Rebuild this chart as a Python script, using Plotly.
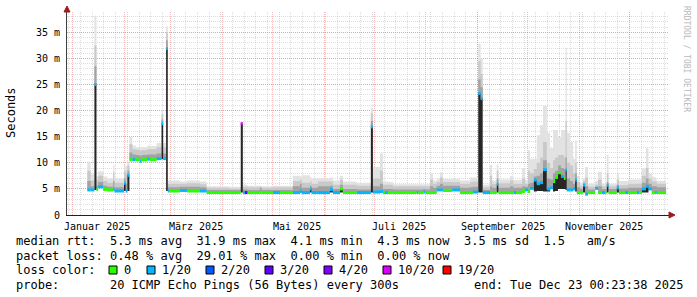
import plotly.graph_objects as go

# ---------------- data (values in milliseconds) ----------------
t = [
    "2025-01-10 00:00", "2025-01-12 00:00", "2025-01-14 06:00", "2025-01-15 12:00", "2025-01-16 12:00",
    "2025-01-19 12:00", "2025-01-22 00:00", "2025-01-25 12:00", "2025-01-26 06:00", "2025-02-01 00:00",
    "2025-02-02 00:00", "2025-02-03 00:00", "2025-02-04 06:00", "2025-02-06 00:00", "2025-02-08 00:00",
    "2025-02-10 12:00", "2025-02-11 12:00", "2025-02-15 00:00", "2025-02-16 12:00", "2025-02-20 12:00",
    "2025-02-23 12:00", "2025-02-24 12:00", "2025-02-26 06:00", "2025-02-27 06:00", "2025-02-28 06:00",
    "2025-03-06 12:00", "2025-03-10 18:00", "2025-03-18 12:00", "2025-03-22 12:00", "2025-04-05 00:00",
    "2025-04-12 00:00", "2025-04-13 06:00", "2025-04-14 12:00", "2025-04-16 00:00", "2025-04-23 12:00",
    "2025-04-24 12:00", "2025-05-01 06:00", "2025-05-05 12:00", "2025-05-13 06:00", "2025-05-17 12:00",
    "2025-05-18 12:00", "2025-05-23 12:00", "2025-05-24 12:00", "2025-05-28 06:00", "2025-06-04 12:00",
    "2025-06-06 06:00", "2025-06-10 12:00", "2025-06-12 06:00", "2025-06-20 12:00", "2025-06-29 00:00",
    "2025-06-30 06:00", "2025-07-04 12:00", "2025-07-06 06:00", "2025-07-07 12:00", "2025-07-09 06:00",
    "2025-07-12 06:00", "2025-07-26 12:00", "2025-07-27 12:00", "2025-07-30 12:00", "2025-07-31 18:00",
    "2025-08-03 12:00", "2025-08-05 06:00", "2025-08-07 12:00", "2025-08-09 12:00", "2025-08-11 06:00",
    "2025-08-16 18:00", "2025-08-21 12:00", "2025-08-27 12:00", "2025-08-29 06:00", "2025-09-01 10:00",
    "2025-09-02 20:00", "2025-09-04 02:00", "2025-09-08 12:00", "2025-09-09 18:00", "2025-09-12 12:00",
    "2025-09-13 12:00", "2025-09-20 12:00", "2025-09-22 12:00", "2025-09-24 00:00", "2025-09-27 18:00",
    "2025-09-29 12:00", "2025-10-01 06:00", "2025-10-02 12:00", "2025-10-04 18:00", "2025-10-06 12:00",
    "2025-10-08 12:00", "2025-10-10 06:00", "2025-10-12 12:00", "2025-10-14 12:00", "2025-10-16 06:00",
    "2025-10-17 12:00", "2025-10-19 06:00", "2025-10-21 00:00", "2025-10-22 18:00", "2025-10-23 18:00",
    "2025-10-24 12:00", "2025-10-26 12:00", "2025-10-28 06:00", "2025-10-29 12:00", "2025-10-30 12:00",
    "2025-11-01 12:00", "2025-11-03 06:00", "2025-11-04 12:00", "2025-11-06 06:00", "2025-11-10 12:00",
    "2025-11-12 06:00", "2025-11-14 12:00", "2025-11-16 12:00", "2025-11-17 12:00", "2025-11-18 12:00",
    "2025-11-23 12:00", "2025-11-24 18:00", "2025-11-28 12:00", "2025-11-30 06:00", "2025-12-05 12:00",
    "2025-12-07 00:00", "2025-12-08 12:00", "2025-12-11 00:00", "2025-12-12 12:00", "2025-12-14 12:00",
    "2025-12-16 12:00", "2025-12-17 12:00",
]
t_end = "2025-12-23 00:23"

# median round-trip time
med = [
    4.8, 4.8, 25.0, 4.9, 5.4, 4.9, 4.8, 4.9, 4.6, 6.1,
    4.6, 7.6, 10.6, 10.6, 10.6, 10.3, 10.6, 10.7, 10.6, 10.8,
    17.5, 10.8, 31.9, 4.6, 4.6, 4.7, 4.6, 4.6, 4.3, 4.3,
    17.5, 4.3, 4.3, 4.3, 4.3, 4.3, 4.3, 4.3, 4.3, 4.6,
    4.3, 5.0, 4.3, 4.3, 4.9, 4.3, 5.0, 4.3, 4.3, 16.9,
    4.4, 4.5, 4.3, 4.3, 4.3, 4.3, 4.3, 4.3, 4.4, 4.3,
    4.3, 4.3, 4.8, 4.8, 4.7, 4.8, 4.3, 4.3, 4.4, 23.3,
    22.3, 4.3, 4.3, 4.3, 5.9, 4.3, 4.3, 4.3, 4.3, 4.5,
    4.8, 4.5, 5.1, 6.7, 6.0, 6.2, 8.7, 5.0, 5.2, 6.4,
    7.2, 8.1, 7.4, 7.0, 8.6, 4.8, 4.8, 5.0, 6.7, 4.3,
    4.3, 5.7, 4.0, 4.3, 5.1, 4.3, 4.3, 4.3, 5.7, 4.3,
    5.2, 4.3, 4.3, 4.3, 4.3, 4.3, 5.0, 5.5, 5.0, 4.3,
    4.3, 4.3,
]
# lower edge of the dense (black) smoke core
core_low = [
    4.8, 4.8, 4.8, 4.9, 5.4, 4.9, 4.8, 4.9, 4.6, 4.6,
    4.6, 4.6, 10.6, 10.6, 10.6, 10.3, 10.6, 10.7, 10.6, 10.8,
    10.7, 10.8, 4.6, 4.6, 4.6, 4.7, 4.6, 4.6, 4.3, 4.3,
    4.3, 4.3, 4.3, 4.3, 4.3, 4.3, 4.3, 4.3, 4.3, 4.3,
    4.3, 4.3, 4.3, 4.3, 4.3, 4.3, 4.3, 4.3, 4.3, 4.3,
    4.4, 4.5, 4.3, 4.3, 4.3, 4.3, 4.3, 4.3, 4.4, 4.3,
    4.3, 4.3, 4.8, 4.8, 4.7, 4.8, 4.3, 4.3, 4.4, 4.3,
    4.3, 4.3, 4.3, 4.3, 4.3, 4.3, 4.3, 4.3, 4.3, 4.5,
    4.8, 4.5, 5.1, 4.5, 4.6, 4.6, 4.5, 4.5, 5.0, 4.5,
    4.6, 5.0, 5.0, 5.0, 4.8, 4.8, 4.8, 5.0, 4.5, 4.3,
    4.3, 4.3, 4.0, 4.3, 5.1, 4.3, 4.3, 4.3, 4.3, 4.3,
    4.3, 4.3, 4.3, 4.3, 4.3, 4.3, 4.3, 4.3, 4.8, 4.3,
    4.3, 4.3,
]
# upper smoke levels
p75 = [
    6.5, 5.5, 28.5, 5.6, 6.3, 5.6, 5.4, 6.5, 5.3, 7.0,
    6.0, 8.5, 12.0, 11.6, 11.5, 11.3, 11.5, 11.6, 11.6, 11.8,
    18.3, 11.8, 33.5, 5.3, 5.3, 5.4, 5.4, 5.3, 4.8, 4.8,
    17.6, 4.9, 4.9, 4.8, 5.2, 4.8, 4.8, 4.8, 5.5, 6.0,
    5.2, 5.6, 5.2, 5.5, 5.6, 5.0, 5.8, 5.0, 4.9, 18.0,
    5.5, 6.0, 5.0, 5.0, 5.0, 4.9, 4.9, 4.9, 5.0, 4.9,
    5.5, 5.2, 5.6, 6.0, 5.6, 5.6, 5.2, 5.3, 5.4, 26.0,
    24.5, 4.8, 5.5, 5.2, 7.0, 5.2, 5.5, 5.2, 5.2, 5.5,
    5.4, 6.0, 6.2, 7.4, 7.5, 8.0, 10.5, 7.0, 6.8, 8.0,
    8.5, 9.5, 9.0, 8.8, 11.0, 7.0, 6.5, 6.0, 8.0, 5.3,
    5.0, 6.1, 5.5, 4.9, 5.4, 5.5, 5.0, 5.0, 6.3, 5.0,
    5.8, 5.1, 5.1, 5.2, 5.2, 5.2, 6.2, 7.0, 6.0, 5.5,
    5.5, 5.3,
]
p90 = [
    8.5, 6.6, 32.5, 6.6, 7.5, 6.5, 6.2, 8.2, 6.2, 8.5,
    8.0, 9.5, 13.6, 12.6, 12.5, 12.3, 12.4, 12.6, 12.6, 13.0,
    19.3, 13.0, 35.0, 6.0, 6.0, 6.0, 6.1, 5.9, 5.2, 5.1,
    17.7, 5.4, 5.4, 5.3, 5.4, 5.2, 5.3, 5.3, 6.5, 6.8,
    6.2, 6.4, 6.0, 6.4, 6.4, 5.8, 6.8, 5.8, 5.6, 19.5,
    7.0, 8.5, 5.8, 5.8, 5.8, 5.5, 5.5, 5.5, 5.5, 5.5,
    6.8, 6.0, 6.3, 7.2, 6.3, 6.3, 6.0, 6.3, 6.4, 29.5,
    27.0, 5.3, 7.5, 6.0, 8.5, 6.1, 6.6, 6.0, 6.0, 7.0,
    6.0, 8.5, 8.0, 8.8, 10.0, 11.0, 14.0, 10.0, 9.0, 10.5,
    11.0, 11.5, 11.5, 11.0, 18.0, 10.0, 9.5, 8.0, 10.0, 6.3,
    5.5, 6.5, 7.2, 5.4, 5.8, 6.8, 5.5, 5.5, 8.0, 5.5,
    6.8, 5.7, 5.7, 6.0, 6.0, 6.0, 7.5, 9.0, 7.0, 6.4,
    6.4, 6.0,
]
pmax = [
    10.2, 7.8, 38.2, 7.4, 8.4, 7.4, 7.0, 9.6, 7.0, 9.6,
    9.4, 10.3, 15.0, 13.3, 13.0, 13.0, 13.0, 13.3, 13.2, 13.8,
    20.0, 13.8, 36.1, 6.6, 6.6, 6.4, 6.6, 6.4, 5.5, 5.4,
    17.8, 5.8, 5.8, 5.6, 5.6, 5.5, 5.6, 5.6, 7.5, 7.4,
    7.6, 7.2, 7.0, 7.0, 7.2, 6.6, 7.5, 6.4, 6.2, 20.6,
    9.2, 11.8, 6.4, 6.4, 6.3, 5.9, 5.9, 5.9, 5.9, 5.9,
    8.0, 6.6, 6.9, 8.2, 6.9, 6.9, 6.6, 7.2, 7.2, 32.8,
    30.0, 5.8, 9.6, 6.6, 9.6, 6.8, 7.5, 6.7, 6.7, 9.0,
    6.7, 12.4, 10.8, 10.8, 15.3, 17.2, 21.0, 15.7, 12.8, 16.3,
    16.3, 15.0, 16.3, 16.3, 32.0, 15.7, 14.0, 10.8, 14.3, 7.5,
    6.1, 7.0, 9.2, 6.0, 6.5, 8.3, 6.0, 6.0, 11.5, 6.0,
    8.0, 6.5, 6.5, 6.8, 6.8, 6.8, 8.9, 12.8, 8.0, 7.3,
    7.0, 6.5,
]
# lost pings (out of 20)
loss = [
    1, 1, 1, 0, 1, 0, 0, 1, 1, 1,
    1, 1, 0, 1, 0, 1, 0, 1, 0, 1,
    1, 1, 1, 1, 0, 1, 0, 1, 0, 0,
    10, 1, 3, 0, 0, 0, 1, 0, 1, 1,
    1, 1, 1, 1, 1, 1, 0, 0, 1, 1,
    1, 1, 0, 1, 0, 0, 1, 0, 1, 0,
    0, 0, 1, 1, 0, 1, 0, 0, 1, 1,
    1, 1, 0, 0, 1, 0, 0, 1, 0, 0,
    1, 0, 1, 1, 1, 1, 1, 1, 1, 0,
    0, 0, 1, 0, 1, 1, 1, 1, 1, 0,
    0, 1, 1, 0, 1, 0, 1, 0, 1, 0,
    1, 0, 1, 0, 1, 0, 1, 1, 1, 0,
    1, 0,
]

loss_labels = ["0", "1/20", "2/20", "3/20", "4/20", "10/20", "19/20"]
loss_levels = [0, 1, 2, 3, 4, 10, 19]
loss_colors = ["#26ff00", "#00b8ff", "#0059ff", "#5e00ff", "#7e00ff", "#dd00ff", "#ff0000"]

y_tick_vals = [0, 5, 10, 15, 20, 25, 30, 35]
y_tick_text = ["0", "5 m", "10 m", "15 m", "20 m", "25 m", "30 m", "35 m"]
month_starts = ["2025-%02d-01" % m for m in range(1, 13)]
label_dates = ["2025-01-16", "2025-03-16", "2025-05-16", "2025-07-16", "2025-09-16", "2025-11-16"]
label_text = ["Januar 2025", "März 2025", "Mai 2025", "Juli 2025", "September 2025", "November 2025"]

# ---------------- layout constants ----------------
W, H = 697, 297
PL, PR, PT, PB = 67, 669, 12, 215
MONO = "DejaVu Sans Mono"


def fx(px):
    return (px - PL) / (PR - PL)


def fy(py):
    return (PB - py) / (PB - PT)


def loss_color(n):
    col = loss_colors[0]
    for lvl, c in zip(loss_levels, loss_colors):
        if n >= lvl:
            col = c
    return col


tx = t + [t_end]


def ext(a):
    return a + [a[-1]]


fig = go.Figure()


def band(lower, upper, color):
    fig.add_trace(go.Scatter(x=tx, y=ext(lower), mode="lines", line=dict(width=0, shape="hv"),
                             hoverinfo="skip", showlegend=False))
    fig.add_trace(go.Scatter(x=tx, y=ext(upper), mode="lines", line=dict(width=0, shape="hv"),
                             fill="tonexty", fillcolor=color, hoverinfo="skip", showlegend=False))


band(med, pmax, "#e2e2e2")
band(med, p90, "#c9c9c9")
band(med, p75, "#a2a2a2")
band(core_low, med, "#262626")

# median, coloured by packet loss
segs = {}
for i in range(len(t)):
    c = loss_color(loss[i])
    xs, ys = segs.setdefault(c, ([], []))
    xs += [tx[i], tx[i + 1], None]
    ys += [med[i], med[i], None]
for c, (xs, ys) in segs.items():
    fig.add_trace(go.Scatter(x=xs, y=ys, mode="lines", line=dict(color=c, width=3),
                             hoverinfo="skip", showlegend=False))

grid_red = "rgba(230,90,90,0.42)"
grid_gray = "rgba(150,150,150,0.32)"

fig.update_xaxes(
    type="date", range=["2024-12-28 19:40", "2025-12-24 19:00"],
    tickmode="array", tickvals=month_starts, showticklabels=False, ticks="",
    showgrid=True, gridcolor=grid_red, griddash="1px,1px", gridwidth=1,
    minor=dict(tick0="2024-12-30", dtick=7 * 86400000, showgrid=True, gridcolor=grid_gray,
               griddash="1px,1px", gridwidth=1, ticks=""),
    showline=True, linecolor="#202020", linewidth=1, zeroline=False, fixedrange=True,
)
fig.update_yaxes(
    range=[0, 38.9], tickmode="array", tickvals=y_tick_vals, ticktext=y_tick_text,
    tickfont=dict(family=MONO, size=10, color="#000000"), ticks="", ticklabelstandoff=4,
    showgrid=True, gridcolor=grid_red, griddash="1px,1px", gridwidth=1,
    minor=dict(dtick=1, showgrid=True, gridcolor=grid_gray, griddash="1px,1px", gridwidth=1, ticks=""),
    showline=True, linecolor="#404040", linewidth=1, zeroline=False, fixedrange=True,
)

ann = []
for d, s in zip(label_dates, label_text):
    ann.append(dict(x=d, xref="x", y=fy(226), yref="paper", text=s, showarrow=False,
                    xanchor="center", yanchor="middle", font=dict(family=MONO, size=10, color="#000")))

ann.append(dict(x=fx(11), y=fy(113), xref="paper", yref="paper", text="Seconds", textangle=-90,
                showarrow=False, xanchor="center", yanchor="middle",
                font=dict(family=MONO, size=12, color="#000")))
ann.append(dict(x=fx(687), y=fy(59), xref="paper", yref="paper", text="RRDTOOL / TOBI OETIKER",
                textangle=90, showarrow=False, xanchor="center", yanchor="middle",
                font=dict(family=MONO, size=8, color="#b8b8b8")))

rows = [
    (241, "median rtt:  5.3 ms avg  31.9 ms max  4.1 ms min  4.3 ms now  3.5 ms sd  1.5   am/s"),
    (256, "packet loss: 0.48 % avg  29.01 % max  0.00 % min  0.00 % now"),
    (270, "loss color:"),
    (285, "probe:       20 ICMP Echo Pings (56 Bytes) every 300s"),
]
for py, s in rows:
    ann.append(dict(x=fx(14), y=fy(py), xref="paper", yref="paper", text=s.replace(" ", "&nbsp;"),
                    showarrow=False, xanchor="left", yanchor="middle",
                    font=dict(family=MONO, size=12, color="#000")))
ann.append(dict(x=fx(686), y=fy(285), xref="paper", yref="paper",
                text="end: Tue Dec 23 00:23:38 2025".replace(" ", "&nbsp;"),
                showarrow=False, xanchor="right", yanchor="middle",
                font=dict(family=MONO, size=12, color="#000")))

shapes = []
box_x = [109, 147, 206, 265, 324, 383, 443]
for bx, lab, col in zip(box_x, loss_labels, loss_colors):
    shapes.append(dict(type="rect", xref="paper", yref="paper", x0=fx(bx), x1=fx(bx + 8),
                       y0=fy(274), y1=fy(266), fillcolor=col, line=dict(color="#000", width=1)))
    ann.append(dict(x=fx(bx + 13), y=fy(270), xref="paper", yref="paper", text=lab, showarrow=False,
                    xanchor="left", yanchor="middle", font=dict(family=MONO, size=12, color="#000")))

# axis arrows
arrow = "#9b1c1c"
shapes.append(dict(type="path", xref="paper", yref="paper",
                   path="M %f %f L %f %f L %f %f Z" % (fx(64), fy(12), fx(70), fy(12), fx(67), fy(6)),
                   fillcolor=arrow, line=dict(color=arrow, width=1)))
shapes.append(dict(type="path", xref="paper", yref="paper",
                   path="M %f %f L %f %f L %f %f Z" % (fx(669), fy(212), fx(669), fy(218), fx(675), fy(215)),
                   fillcolor=arrow, line=dict(color=arrow, width=1)))

fig.update_layout(
    width=W, height=H, autosize=False,
    margin=dict(l=PL, r=W - PR, t=PT, b=H - PB, pad=0),
    paper_bgcolor="#ffffff", plot_bgcolor="#ffffff",
    showlegend=False, annotations=ann, shapes=shapes,
    font=dict(family=MONO),
)

fig.write_html("out.html")
